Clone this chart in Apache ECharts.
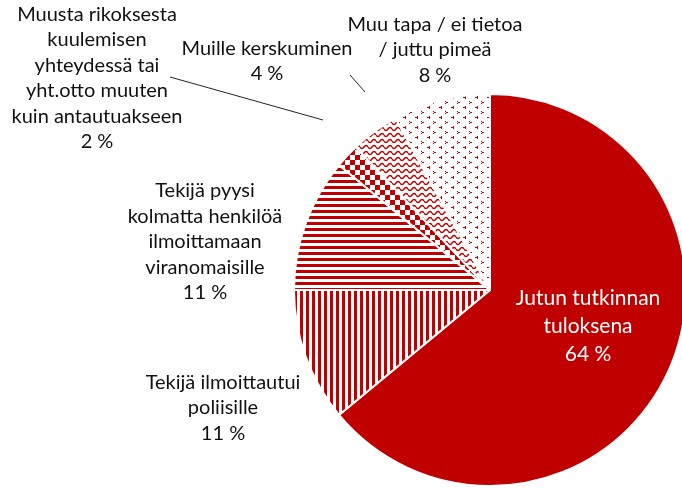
<!DOCTYPE html>
<html>
<head>
<meta charset="utf-8">
<script src="https://cdn.jsdelivr.net/npm/echarts@6/dist/echarts.min.js"></script>
<style>
  html, body { margin: 0; padding: 0; background: #fff; }
  #chart { width: 682px; height: 489px; }
</style>
</head>
<body>
<div id="chart"></div>
<script>
var names = [
  "Jutun tutkinnan\ntuloksena",
  "Tekijä ilmoittautui\npoliisille",
  "Tekijä pyysi\nkolmatta henkilöä\nilmoittamaan\nviranomaisille",
  "Muusta rikoksesta\nkuulemisen\nyhteydessä tai\nyht.otto muuten\nkuin antautuakseen",
  "Muille kerskuminen",
  "Muu tapa / ei tietoa\n/ juttu pimeä"
];
var values = [64, 11, 11, 2, 4, 8];

// label centres and leader lines (layout only)
var labelPos = [[588, 326], [223, 408], [205, 242], [97, 78], [267, 61], [435, 50]];
var leaderEnds = [null, null, null, [[170, 77], [323, 120]], [[350, 75], [365, 92]], null];

var RED = "#C00000";

function tile(w, h, draw) {
  var c = document.createElement("canvas");
  c.width = w; c.height = h;
  var ctx = c.getContext("2d");
  ctx.fillStyle = "#fff";
  ctx.fillRect(0, 0, w, h);
  ctx.fillStyle = RED;
  ctx.strokeStyle = RED;
  draw(ctx);
  return { image: c, repeat: "repeat" };
}

function chevron(ctx, x, y, dir) {
  // small 3x3 arrow head
  ctx.fillRect(x + (dir > 0 ? 0 : 2), y, 1, 1);
  ctx.fillRect(x + 1, y + 1, 2, 1);
  ctx.fillRect(x + (dir > 0 ? 2 : 0), y + 1, 1, 1);
  ctx.fillRect(x + (dir > 0 ? 0 : 2), y + 2, 1, 1);
}

var fills = [
  RED,
  tile(6, 6, function (ctx) { ctx.fillRect(0, 0, 3, 6); }),
  tile(6, 6, function (ctx) { ctx.fillRect(0, 0, 6, 3); }),
  tile(10, 10, function (ctx) { ctx.fillRect(0, 0, 5, 5); ctx.fillRect(5, 5, 5, 5); }),
  tile(8, 6, function (ctx) {
    ctx.lineWidth = 1.5;
    ctx.beginPath();
    for (var x = 0; x <= 8; x += 0.5) {
      var y = 3 + 1.5 * Math.sin(x / 8 * Math.PI * 2);
      if (x === 0) ctx.moveTo(x, y); else ctx.lineTo(x, y);
    }
    ctx.stroke();
  }),
  tile(12, 10, function (ctx) {
    chevron(ctx, 1, 1, 1);
    chevron(ctx, 7, 6, -1);
  })
];

var data = values.map(function (v, i) {
  return {
    name: names[i],
    value: v,
    itemStyle: { color: fills[i] },
    label: i === 0
      ? { position: "inside", color: "#fff", fontSize: 21, lineHeight: 28 }
      : { position: "outside", color: "#111" },
    labelLine: { show: !!leaderEnds[i] }
  };
});

var myChart = echarts.init(document.getElementById("chart"));
var option = {
  animation: false,
  series: [
    {
      type: "pie",
      center: [490, 290],
      radius: 196,
      startAngle: 90,
      clockwise: true,
      avoidLabelOverlap: false,
      data: data,
      itemStyle: { borderColor: "#fff", borderWidth: 2 },
      label: {
        formatter: "{b}\n{c} %",
        fontFamily: "Lato",
        fontSize: 20,
        lineHeight: 25.5,
        align: "center",
        overflow: "none"
      },
      labelLine: { lineStyle: { color: "#222", width: 1 }, length: 10, length2: 10 },
      labelLayout: function (params) {
        var i = params.dataIndex;
        var out = {
          x: labelPos[i][0],
          y: labelPos[i][1],
          align: "center",
          verticalAlign: "middle"
        };
        if (leaderEnds[i]) {
          out.labelLinePoints = [leaderEnds[i][1], leaderEnds[i][1], leaderEnds[i][0]];
        }
        return out;
      }
    }
  ]
};
myChart.setOption(option);
</script>
</body>
</html>
